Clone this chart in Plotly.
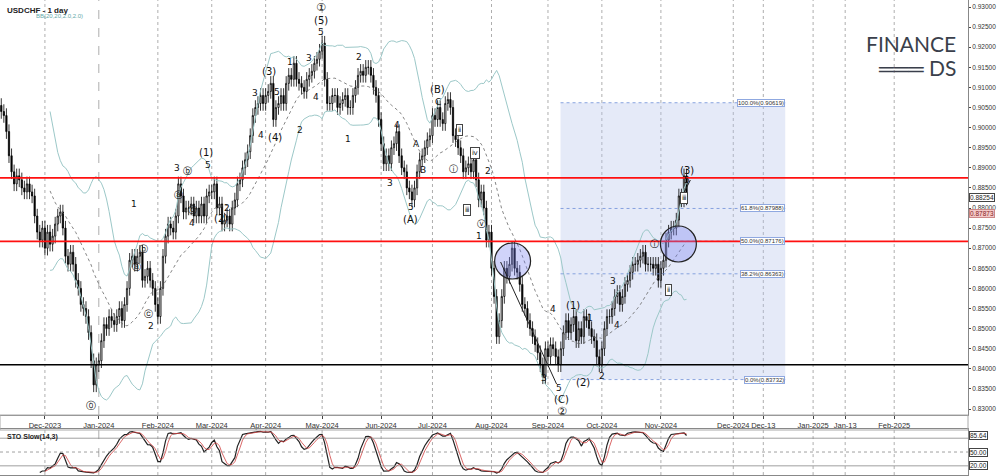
import numpy as np
import pandas as pd
import plotly.graph_objects as go

start_date = "2023-11-08"
closes = [
0.904,0.903,0.899,
0.893,0.889,0.886,0.888,0.887,
0.885,0.884,0.886,0.884,0.883,
0.878,0.874,0.872,0.875,0.870,
0.874,0.871,0.873,0.876,0.878,
0.879,0.875,0.868,0.866,0.869,
0.866,0.862,0.860,0.856,0.855,
0.853,0.849,0.842,0.836,0.841,
0.842,0.847,0.851,0.850,0.853,
0.852,0.851,0.853,0.855,0.852,
0.856,0.860,0.867,0.868,0.866,
0.868,0.869,0.862,0.863,0.865,
0.862,0.860,0.856,0.853,0.860,
0.868,0.873,0.876,0.875,0.874,
0.878,0.886,0.883,0.879,0.880,
0.880,0.881,0.878,0.880,0.878,
0.881,0.878,0.883,0.884,0.884,
0.886,0.880,0.881,0.876,0.877,
0.878,0.876,0.880,0.882,0.886,
0.887,0.890,0.892,0.894,0.898,
0.903,0.905,0.906,0.908,0.906,
0.908,0.909,0.911,0.902,0.905,
0.906,0.908,0.906,0.911,0.913,
0.912,0.916,0.912,0.911,0.910,
0.909,0.912,0.913,0.914,0.916,
0.917,0.919,0.921,0.912,0.906,
0.906,0.908,0.908,0.905,0.906,
0.907,0.908,0.905,0.905,0.908,
0.910,0.913,0.914,0.913,0.915,
0.915,0.913,0.910,0.908,0.902,
0.896,0.891,0.893,0.891,0.895,
0.896,0.899,0.893,0.890,0.889,
0.885,0.884,0.882,0.885,0.889,
0.892,0.893,0.895,0.897,0.898,
0.903,0.902,0.905,0.902,0.901,
0.906,0.907,0.905,0.898,0.897,
0.895,0.893,0.889,0.890,0.891,
0.889,0.892,0.887,0.882,0.884,
0.880,0.872,0.874,0.865,0.858,
0.848,0.852,0.858,0.865,0.863,
0.866,0.870,0.865,0.864,0.861,
0.856,0.855,0.852,0.850,0.848,
0.846,0.844,0.841,0.838,0.845,
0.843,0.846,0.845,0.843,0.841,
0.845,0.849,0.852,0.849,0.851,
0.853,0.847,0.850,0.848,0.853,
0.852,0.850,0.848,0.847,0.843,
0.841,0.845,0.850,0.853,0.853,
0.855,0.858,0.859,0.856,0.858,
0.861,0.862,0.864,0.866,0.866,
0.867,0.868,0.869,0.866,0.866,
0.866,0.865,0.866,0.862,0.865,
0.867,0.872,0.874,0.875,0.875,
0.877,0.883,0.882,0.888,0.8825,
]
open0 = 0.9055
wick = 0.0018

hlines_red = [0.8875, 0.8717]
hline_black = 0.8410
fib_hi, fib_lo = 0.90619, 0.83732
fib_levels = [(1.0, "100.0%(0.90619)"), (0.618, "61.8%(0.87988)"), (0.5, "50.0%(0.87176)"), (0.382, "38.2%(0.86363)"), (0.0, "0.0%(0.83732)")]
future_ticks = [(285.2, "Dec-2024"), (296.9, "Dec-13"), (316.3, "Jan-2025"), (328.8, "Jan-13"), (347.9, "Feb-2025")]

dates = pd.bdate_range(start_date, periods=len(closes))
c = np.array(closes)
o = np.concatenate([[open0], c[:-1]])
h = np.maximum(o, c) + wick
l = np.minimum(o, c) - wick
idx = np.arange(len(c))

s = pd.Series(c)
ma = s.rolling(20).mean()
sd = s.rolling(20).std(ddof=0)
up, dn = ma + 2 * sd, ma - 2 * sd
hh = pd.Series(h).rolling(14).max()
ll = pd.Series(l).rolling(14).min()
rawk = 100 * (s - ll) / (hh - ll)
k = rawk.rolling(3).mean()
d = k.rolling(3).mean()

PX = 2.57
PY = 4020.0
def X(px): return px / PX
def Y(py): return 0.93 - (py - 7) / PY

fig = go.Figure()
fig.add_trace(go.Candlestick(x=idx, open=o, high=h, low=l, close=c,
    increasing=dict(line=dict(color="black", width=0.8), fillcolor="white"),
    decreasing=dict(line=dict(color="black", width=0.8), fillcolor="black"),
    whiskerwidth=0, showlegend=False, xaxis="x", yaxis="y"))
bbc = "#9cc8c8"
fig.add_trace(go.Scatter(x=idx, y=up, mode="lines", line=dict(color=bbc, width=1), showlegend=False))
fig.add_trace(go.Scatter(x=idx, y=dn, mode="lines", line=dict(color=bbc, width=1), showlegend=False))
fig.add_trace(go.Scatter(x=idx, y=ma, mode="lines", line=dict(color="#666", width=0.8, dash="dot"), showlegend=False))
fig.add_trace(go.Scatter(x=idx, y=k, mode="lines", line=dict(color="#222", width=1.2), showlegend=False, xaxis="x2", yaxis="y2"))
fig.add_trace(go.Scatter(x=idx, y=d, mode="lines", line=dict(color="#d04040", width=0.8), showlegend=False, xaxis="x2", yaxis="y2"))

tv, tt = [], []
for i in range(1, len(dates)):
    if dates[i].month != dates[i - 1].month:
        tv.append(i); tt.append(dates[i].strftime("%b-%Y"))
for p, t in future_ticks:
    tv.append(p); tt.append(t)

xr = [-0.5, X(968)]
shapes = []
for v in tv:
    for ya in ["y", "y2"]:
        shapes.append(dict(type="line", xref="x", yref=ya + " domain", x0=v, x1=v, y0=0, y1=1,
                           line=dict(color="#999", width=0.8, dash="dash" if v == tv[1] else "dot"), layer="below"))
fx0, fx1 = X(560), X(785)
shapes.append(dict(type="rect", xref="x", yref="y", x0=fx0, x1=fx1, y0=fib_lo, y1=fib_hi,
                   fillcolor="rgba(180,195,235,0.35)", line=dict(width=0), layer="below"))
annos = []
for r, lab in fib_levels:
    yv = fib_lo + r * (fib_hi - fib_lo)
    shapes.append(dict(type="line", xref="x", yref="y", x0=fx0, x1=fx1, y0=yv, y1=yv,
                       line=dict(color="#6f8fd8", width=0.8, dash="dot")))
    annos.append(dict(x=fx1, y=yv, xref="x", yref="y", text=lab, showarrow=False, xanchor="right",
                      font=dict(size=6, color="#333"), bgcolor="white", bordercolor="#8fa8e0", borderwidth=1, borderpad=0))
for yv in hlines_red:
    shapes.append(dict(type="line", xref="x", yref="y", x0=xr[0], x1=xr[1], y0=yv, y1=yv, line=dict(color="#ff1010", width=1.6)))
shapes.append(dict(type="line", xref="x", yref="y", x0=xr[0], x1=xr[1], y0=hline_black, y1=hline_black, line=dict(color="black", width=1.6)))
for cx, cy in [(512, 261), (678, 244)]:
    shapes.append(dict(type="circle", xref="x", yref="y", x0=X(cx - 18), x1=X(cx + 18), y0=Y(cy + 18), y1=Y(cy - 18),
                       fillcolor="rgba(120,130,240,0.35)", line=dict(color="#222", width=1.2)))
shapes.append(dict(type="line", xref="x", yref="y", x0=X(500), x1=X(556), y0=Y(262), y1=Y(384), line=dict(color="#222", width=1)))
shapes.append(dict(type="line", xref="x", yref="y", x0=X(680), x1=X(690), y0=Y(200), y1=Y(180), line=dict(color="#222", width=1)))
for lv, ds in [(80, "solid"), (50, "dot"), (20, "solid")]:
    shapes.append(dict(type="line", xref="x2", yref="y2", x0=xr[0], x1=xr[1], y0=lv, y1=lv, line=dict(color="#888", width=0.8, dash=ds)))
shapes.append(dict(type="rect", xref="paper", yref="paper", x0=0, x1=1, y0=1 - 430 / 476, y1=1 - 415 / 476, line=dict(color="#aaa", width=1), fillcolor="rgba(0,0,0,0)"))

waves = [
 ("⓪", 90, 405, 10), ("1", 133, 204, 9), ("ⓑ", 142, 249, 9), ("ⓐ", 135, 267, 9), ("ⓒ", 147, 314, 9), ("2", 150, 326, 9),
 ("3", 176, 168, 9), ("ⓐ", 177, 195, 9), ("ⓑ", 186, 171, 9), ("ⓒ", 191, 210, 9), ("4", 191, 223, 9), ("(1)", 205, 152, 10), ("5", 207, 165, 9),
 ("2", 226, 208, 9), ("(2)", 220, 218, 10), ("3", 254, 93, 9), ("4", 260, 135, 9), ("(3)", 268, 71, 10), ("5", 276, 92, 9), ("(4)", 274, 137, 10),
 ("1", 289, 62, 9), ("2", 299, 130, 9), ("3", 308, 58, 9), ("4", 315, 97, 9), ("①", 320, 7, 11), ("(5)", 320, 20, 10), ("5", 320, 32, 9),
 ("2", 358, 57, 9), ("1", 347, 139, 9), ("3", 389, 183, 9), ("4", 396, 125, 9), ("5", 410, 207, 9), ("(A)", 410, 219, 10), ("A", 416, 144, 9),
 ("B", 422, 170, 9), ("(B)", 437, 89, 10), ("C", 437, 102, 9), ("ⅱ", 459, 130, 7), ("ⅳ", 474, 153, 7), ("ⓘ", 453, 169, 9), ("ⅲ", 466, 210, 7),
 ("ⓥ", 481, 224, 9), ("2", 487, 171, 9), ("1", 478, 236, 9), ("4", 552, 309, 9), ("(1)", 572, 305, 10), ("1", 589, 318, 9),
 ("3", 543, 378, 9), ("5", 558, 388, 9), ("(C)", 561, 399, 10), ("②", 561, 411, 11), ("(2)", 582, 382, 10), ("2", 602, 376, 9),
 ("3", 613, 281, 9), ("4", 617, 325, 9), ("ⓘ", 654, 244, 9), ("ⅱ", 668, 290, 7), ("ⅲ", 684, 198, 7), ("5", 687, 180, 9), ("(3)", 687, 170, 10),
]
for t, px, py, fs in waves:
    a = dict(x=X(px), y=Y(py), xref="x", yref="y", text=t, showarrow=False, font=dict(size=fs, color="#111", family="DejaVu Sans"))
    if t in ("ⅱ", "ⅲ", "ⅳ"):
        a.update(bordercolor="#444", borderwidth=1, borderpad=1, bgcolor="white")
    annos.append(a)

def rlab(y, yref, text, fc="#222", bg="white", bc="#444"):
    return dict(x=1.0, y=y, xref="paper", yref=yref, text=text, showarrow=False, xanchor="left", xshift=1,
                font=dict(size=6.5, color=fc), bgcolor=bg, bordercolor=bc, borderwidth=1, borderpad=0)

annos += [
 dict(x=0.005, y=1 - 4 / 476, xref="paper", yref="paper", text="<b>USDCHF - 1 day</b>", showarrow=False, xanchor="left", yanchor="top", font=dict(size=8, color="#222")),
 dict(x=0.035, y=1 - 11 / 476, xref="paper", yref="paper", text="BB(20,20,2.0,2.0)", showarrow=False, xanchor="left", yanchor="top", font=dict(size=6, color="#6aa")),
 dict(x=0.005, y=1 - 431 / 476, xref="paper", yref="paper", text="<b>STO Slow(14,3)</b>", showarrow=False, xanchor="left", yanchor="top", font=dict(size=7, color="#222")),
 dict(x=0.99, y=1 - 29 / 476, xref="paper", yref="paper", text="FINANCE", showarrow=False, xanchor="right", font=dict(size=21, color="#3a3f4b", family="Lato")),
 dict(x=0.99, y=1 - 53 / 476, xref="paper", yref="paper", text="═══ DS", showarrow=False, xanchor="right", font=dict(size=21, color="#3a3f4b", family="Lato")),
 rlab(0.88254, "y", "0.88254"),
 rlab(0.87873, "y", "0.87873", fc="#822", bg="#f3c8c8", bc="#c88"),
 rlab(85.64, "y2", "85.64"), rlab(50, "y2", "50.00"), rlab(20, "y2", "20.00"),
]

fig.update_layout(
    width=1000, height=476, margin=dict(l=0, r=32, t=0, b=0),
    paper_bgcolor="white", plot_bgcolor="white", font=dict(family="Liberation Sans", size=8, color="#333"),
    shapes=shapes, annotations=annos, showlegend=False,
    xaxis=dict(range=xr, tickvals=tv, ticktext=tt, tickangle=0, showgrid=False, rangeslider=dict(visible=False), mirror=True, showline=True,
               linecolor="#888", ticks="outside", ticklen=3, tickfont=dict(size=7.5), domain=[0, 1], anchor="y", automargin=False),
    yaxis=dict(domain=[1 - 415 / 476, 1], range=[Y(415), Y(0)], side="right", tickformat=".5f", dtick=0.005, tick0=0.83,
               showgrid=False, showline=True, mirror=True, linecolor="#888", ticks="outside", ticklen=2, tickfont=dict(size=6.5),
               zeroline=False, automargin=False),
    xaxis2=dict(range=xr, showticklabels=False, showgrid=False, showline=True, mirror=True, linecolor="#888", anchor="y2", matches="x"),
    yaxis2=dict(domain=[0.002, 1 - 429 / 476], range=[0, 100], side="right", showticklabels=False, showgrid=False,
                showline=True, mirror=True, linecolor="#888", zeroline=False),
)
fig.write_html("out.html", config={"displayModeBar": False},
               post_script="document.body.style.margin='0';document.body.style.overflow='hidden';")
